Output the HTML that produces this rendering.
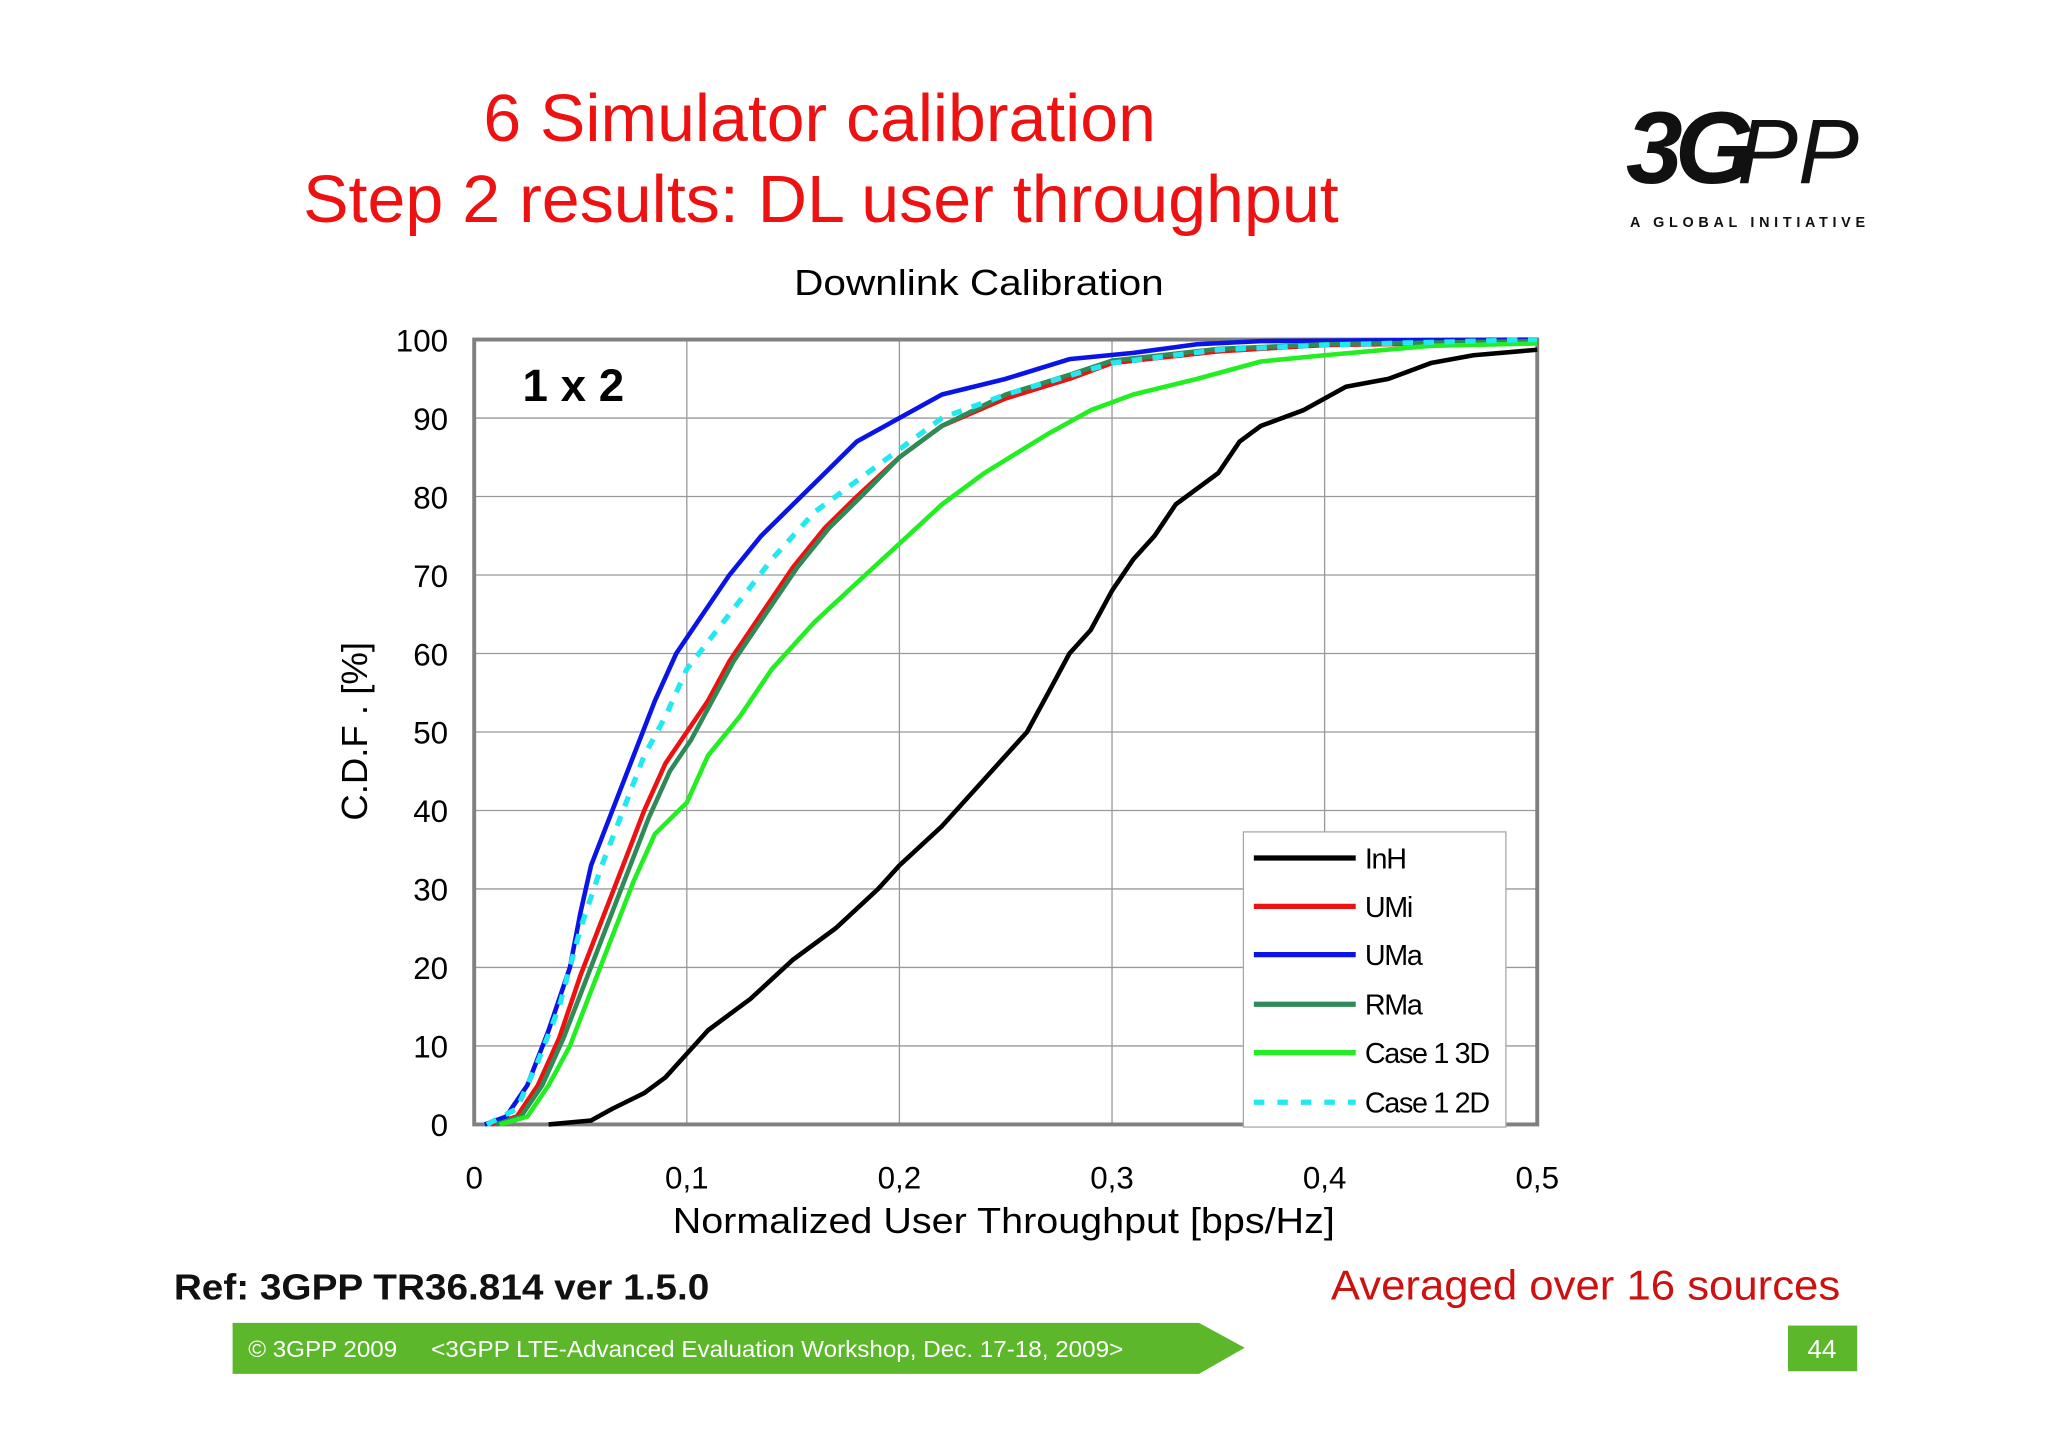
<!DOCTYPE html>
<html><head><meta charset="utf-8"><style>
html,body{margin:0;padding:0;background:#fff;}
svg{display:block;}
text{font-family:"Liberation Sans",sans-serif;}
</style></head><body>
<svg id="s" width="2048" height="1447" viewBox="0 0 1568 1108" xmlns="http://www.w3.org/2000/svg">
<text x="370" y="108" font-size="51" fill="#ee1111" textLength="515" lengthAdjust="spacingAndGlyphs">6 Simulator calibration</text>
<text x="232" y="170" font-size="51" fill="#ee1111" textLength="793" lengthAdjust="spacingAndGlyphs">Step 2 results: DL user throughput</text>
<g>
<text x="1245" y="140" font-size="78" font-weight="bold" fill="#111" font-style="italic" letter-spacing="-6">3G</text>
<text x="1330" y="140" font-size="70" fill="#111" font-style="italic">PP</text>
<text x="1248" y="174" font-size="11" font-weight="bold" fill="#111" textLength="180" lengthAdjust="spacing">A GLOBAL INITIATIVE</text>
</g>
<text x="608" y="226" font-size="28" fill="#000" textLength="283" lengthAdjust="spacingAndGlyphs">Downlink Calibration</text>
<g id="plot"></g>
<text x="133" y="995" font-size="28" font-weight="bold" fill="#111" textLength="410" lengthAdjust="spacingAndGlyphs">Ref: 3GPP TR36.814 ver 1.5.0</text>
<text x="1019" y="995" font-size="32" fill="#cc1111" textLength="390" lengthAdjust="spacingAndGlyphs">Averaged over 16 sources</text>
<polygon points="178,1013 918,1013 953,1032 918,1052 178,1052" fill="#5cb82a"/>
<text x="190" y="1039" font-size="18" fill="#fff" textLength="114" lengthAdjust="spacingAndGlyphs">© 3GPP 2009</text>
<text x="330" y="1039" font-size="18" fill="#fff" textLength="530" lengthAdjust="spacingAndGlyphs">&lt;3GPP LTE-Advanced Evaluation Workshop, Dec. 17-18, 2009&gt;</text>
<rect x="1369" y="1015" width="53" height="35" fill="#5cb82a"/>
<text x="1395" y="1040" font-size="20" fill="#fff" text-anchor="middle">44</text>
</svg>
<script>
const xTicks=[0,0.1,0.2,0.3,0.4,0.5];
const xTickLabels=["0","0,1","0,2","0,3","0,4","0,5"];
const yTicks=[0,10,20,30,40,50,60,70,80,90,100];
const seriesNames=["InH","UMi","UMa","RMa","Case 1 3D","Case 1 2D"];
const inhX=[0.035,0.055,0.065,0.08,0.09,0.1,0.11,0.13,0.15,0.17,0.19,0.2,0.22,0.24,0.26,0.27,0.28,0.29,0.3,0.31,0.32,0.33,0.35,0.36,0.37,0.39,0.41,0.43,0.45,0.47,0.5];
const inhY=[0,0.5,2,4,6,9,12,16,21,25,30,33,38,44,50,55,60,63,68,72,75,79,83,87,89,91,94,95,97,98,98.7];
const umiX=[0.008,0.02,0.03,0.04,0.05,0.06,0.07,0.08,0.09,0.1,0.11,0.12,0.135,0.15,0.165,0.18,0.2,0.22,0.25,0.28,0.3,0.35,0.4,0.5];
const umiY=[0,1,5,11,19,26,33,40,46,50,54,59,65,71,76,80,85,89,92.5,95,97,98.5,99.3,99.7];
const umaX=[0.005,0.015,0.025,0.035,0.045,0.05,0.055,0.065,0.075,0.085,0.095,0.105,0.12,0.135,0.15,0.165,0.18,0.2,0.22,0.25,0.28,0.31,0.34,0.37,0.5];
const umaY=[0,1,5,12,20,27,33,40,47,54,60,64,70,75,79,83,87,90,93,95,97.5,98.3,99.4,99.8,100];
const rmaX=[0.01,0.022,0.032,0.042,0.052,0.062,0.072,0.082,0.092,0.102,0.112,0.122,0.137,0.152,0.167,0.182,0.2,0.22,0.25,0.28,0.3,0.35,0.4,0.5];
const rmaY=[0,1,5,11,18,25,32,39,45,49,54,59,65,71,76,80,85,89,93,95.5,97.3,98.8,99.4,99.8];
const c13X=[0.012,0.025,0.035,0.045,0.055,0.065,0.075,0.085,0.1,0.11,0.125,0.14,0.16,0.18,0.2,0.22,0.24,0.27,0.29,0.31,0.34,0.37,0.4,0.45,0.5];
const c13Y=[0,1,5,10,17,24,31,37,41,47,52,58,64,69,74,79,83,88,91,93,95,97.2,98,99.2,99.5];
const c12X=[0.006,0.02,0.03,0.04,0.05,0.06,0.07,0.08,0.09,0.1,0.12,0.14,0.16,0.18,0.2,0.22,0.25,0.3,0.35,0.4,0.5];
const c12Y=[0,2,8,15,25,33,40,47,52,58,65,72,78,82,86,90,93,97,98.7,99.3,100];
const series=[[inhX,inhY,"#000",false],[umiX,umiY,"#ee1111",false],[umaX,umaY,"#0a14e6",false],[rmaX,rmaY,"#2e8b57",false],[c13X,c13Y,"#22ee22",false],[c12X,c12Y,"#22e8f0",true]];
const X0=363,X1=1177,Y0=861,Y1=260;
const sx=v=>X0+(v-0)/(0.5)*(X1-X0);
const sy=v=>Y0-(v/100)*(Y0-Y1);
const NS="http://www.w3.org/2000/svg";
const g=document.getElementById('plot');
function mk(t,a,p){const e=document.createElementNS(NS,t);for(const k in a)e.setAttribute(k,a[k]);(p||g).appendChild(e);return e;}
const bg=mk('rect',{x:X0,y:Y1,width:X1-X0,height:Y0-Y1,fill:'#fff'});


yTicks.forEach(v=>{const l=mk('line',{x1:X0,x2:X1,y1:sy(v),y2:sy(v),stroke:'#999','stroke-width':1});


const t=mk('text',{x:343,y:sy(v)+9,'font-size':24,'text-anchor':'end',fill:'#000'});t.textContent=v;

});
xTicks.forEach((v,i)=>{const l=mk('line',{x1:sx(v),x2:sx(v),y1:Y1,y2:Y0,stroke:'#999','stroke-width':1});


const t=mk('text',{x:sx(v),y:910,'font-size':24,'text-anchor':'middle',fill:'#000'});t.textContent=xTickLabels[i];

});
const fr=mk('rect',{x:X0,y:Y1,width:X1-X0,height:Y0-Y1,fill:'none',stroke:'#808080','stroke-width':3});


const xt=mk('text',{x:515,y:944,'font-size':28,fill:'#000',textLength:507,lengthAdjust:'spacingAndGlyphs'});xt.textContent='Normalized User Throughput [bps/Hz]';


const yt=mk('text',{x:0,y:0,'font-size':28,'text-anchor':'middle',fill:'#000',transform:'translate(281,560) rotate(-90)'});yt.textContent='C.D.F . [%]';


const lb=mk('text',{x:400,y:307,'font-size':35,'font-weight':'bold',fill:'#000'});lb.textContent='1 x 2';


series.forEach((s,i)=>{const pts=s[0].map((x,j)=>sx(x).toFixed(1)+','+sy(s[1][j]).toFixed(1)).join(' ');
const a={points:pts,fill:'none',stroke:s[2],'stroke-width':s[3]?4:3.5,'stroke-linejoin':'round'};if(s[3])a['stroke-dasharray']='8,8';
const p=mk('polyline',a);

});
const lg=mk('rect',{x:952,y:637,width:201,height:226,fill:'#fff',stroke:'#aaa','stroke-width':1});


const ly=[657,694,731,769,806,844];
series.forEach((s,i)=>{const a={x1:960,x2:1038,y1:ly[i],y2:ly[i],stroke:s[2],'stroke-width':4};if(s[3])a['stroke-dasharray']='8,10';
const l=mk('line',a);


const t=mk('text',{x:1045,y:ly[i]+8,'font-size':22,fill:'#000','letter-spacing':'-1'});t.textContent=seriesNames[i];

});
</script>
</body></html>
